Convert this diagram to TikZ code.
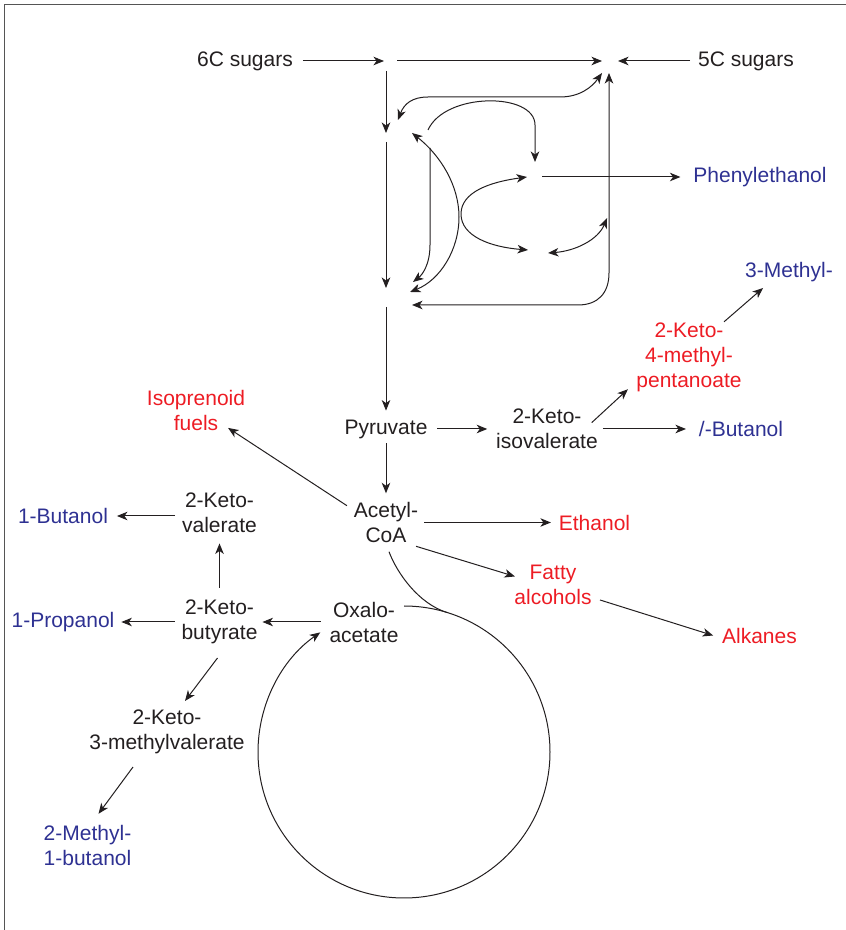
\documentclass[tikz,border=0pt]{standalone}
\usepackage{fontspec}
\setmainfont{Liberation Sans}
\usetikzlibrary{arrows.meta}
\definecolor{myred}{RGB}{237,28,36}
\definecolor{myblue}{RGB}{46,49,146}
\definecolor{mytext}{RGB}{35,31,32}
\definecolor{framegray}{RGB}{85,85,85}
\begin{document}
\begin{tikzpicture}[x=1pt,y=1pt,
  lbl/.style={font=\fontsize{21}{25}\selectfont, align=center, inner sep=0pt, outer sep=0pt, text=mytext},
  prod/.style={lbl, text=myred},
  alc/.style={lbl, text=myblue},
  tip/.tip={Stealth[length=10.5pt,width=8.5pt,inset=3pt]},
  arr/.style={draw=mytext, line width=1pt, -tip},
  darr/.style={draw=mytext, line width=1pt, tip-tip},
  ln/.style={draw=mytext, line width=1pt},
]
\useasboundingbox (0,0) rectangle (846,930);
\draw[framegray, line width=1.8pt] (4.5,0) -- (4.5,925.5) -- (846,925.5);

% nodes
\node[lbl] (sug6) at (245,869) {6C sugars};
\node[lbl] (sug5) at (746,869) {5C sugars};
\coordinate (j1) at (386,869);
\coordinate (j4) at (610,869);
\coordinate (j2) at (386,793);
\coordinate (j3) at (386,633);
\coordinate (j5) at (537,753);
\coordinate (j6) at (538,679);
\coordinate (j7) at (607,712);
\node[alc] (phe) at (760,753) {Phenylethanol};
\node[alc] (me3) at (789,658) {3-Methyl-};
\node[prod] (k4m) at (689,573) {2-Keto-\\4-methyl-\\pentanoate};
\node[lbl] (kiv) at (547,501) {2-Keto-\\isovalerate};
\node[alc] (ibut) at (741,501) {/-Butanol};
\node[lbl] (pyr) at (386,501) {Pyruvate};
\node[prod] (iso) at (196,520) {Isoprenoid\\fuels};
\node[lbl] (acoa) at (386,407.5) {Acetyl-\\CoA};
\node[prod] (eth) at (594.5,407.5) {Ethanol};
\node[prod] (fatty) at (553,345) {Fatty\\alcohols};
\node[prod] (alk) at (759.5,294.5) {Alkanes};
\node[lbl] (kval) at (219.5,417.5) {2-Keto-\\valerate};
\node[alc] (but1) at (63,414) {1-Butanol};
\node[lbl] (kbut) at (219.5,308) {2-Keto-\\butyrate};
\node[alc] (prop1) at (63,308) {1-Propanol};
\node[lbl] (oaa) at (364,308) {Oxalo-\\acetate};
\node[lbl] (k3m) at (167,198) {2-Keto-\\3-methylvalerate};
\node[alc] (mb2) at (87.5,85) {2-Methyl-\\1-butanol};
\coordinate (tcatop) at (404,324);
\coordinate (tcamerge) at (447,317.5);

% upper network
\draw[arr] ([xshift=10]sug6.east) -- ([xshift=-2]j1);
\draw[arr] ([xshift=11]j1) -- ([xshift=-8]j4);
\draw[arr] ([xshift=-8]sug5.west) -- ([xshift=8]j4);
\draw[arr] ([yshift=-10]j1) -- ([yshift=4]j2);
\draw[arr] ([yshift=-5]j2) -- ([yshift=9]j3);
\draw[arr] ([yshift=-10]j3) -- ([yshift=9]pyr.north);
\draw[darr] ([shift={(12,17)}]j2) .. controls (404,826) and (412,833) .. (428,833)
   -- (560,833) .. controls (580,833) and (592,843) .. ([shift={(-8,-12)}]j4);
\draw[arr] ([shift={(42,7)}]j2) .. controls (445,838) and (535,838) .. (535,805)
   -- ([shift={(-2,15)}]j5);
\draw[darr] ([shift={(26,4)}]j2) .. controls (440,775) and (459,745) .. (459,713)
   .. controls (459,680) and (440,650) .. ([shift={(24,5)}]j3);
\draw[arr] ([shift={(44,-11)}]j2) -- (430,685) .. controls (430,665) and (422,655) .. ([shift={(27,15)}]j3);
\draw[darr] ([shift={(-10,0)}]j5) .. controls (490,748) and (461,738) .. (461,716)
   .. controls (461,694) and (490,683) .. ([shift={(-10,1)}]j6);
\draw[darr] ([shift={(10,-2)}]j6) .. controls (575,679) and (598,690) .. (j7);
\draw[darr] ([shift={(26,-8)}]j3) -- (578,625) .. controls (598,625) and (609,637) .. (609,657)
   -- ([shift={(-1,-12)}]j4);
\draw[arr] ([xshift=5]j5) -- ([xshift=-13]phe.west);

% lower network
\draw[arr] ([yshift=-5]pyr.south) -- ([yshift=9]acoa.north);
\draw[arr] ([xshift=10]pyr.east) -- ([xshift=-9]kiv.west);
\draw[arr] ([xshift=5]kiv.east) -- ([xshift=-13]ibut.west);
\draw[arr] ([xshift=-6,yshift=-13.5]kiv.north east) -- ([xshift=-8.5,yshift=2.3]k4m.south west);
\draw[arr] ([xshift=-17.5,yshift=0.7]k4m.north east) -- ([xshift=17.8,yshift=-6.2]me3.south west);
\draw[arr] ([xshift=-7,yshift=-3.4]acoa.north west) -- ([xshift=-17,yshift=2.3]iso.south east);
\draw[arr] ([xshift=6]acoa.east) -- ([xshift=-8]eth.west);
\draw[arr] ([xshift=-2,yshift=-3.6]acoa.south east) -- ([xshift=0.5,yshift=-11.3]fatty.north west);
\draw[arr] ([xshift=8.5,yshift=-15]fatty.east) -- ([xshift=-9]alk.west);
\draw[arr] ([xshift=-9]oaa.west) -- ([xshift=5]kbut.east);
\draw[arr] ([yshift=12]kbut.north) -- ([yshift=-11]kval.south);
\draw[arr] ([xshift=-7,yshift=-3.5]kval.west) -- ([xshift=9]but1.east);
\draw[arr] ([xshift=-7]kbut.west) -- ([xshift=7]prop1.east);
\draw[arr] ([xshift=-2,yshift=-14]kbut.south) -- ([xshift=18,yshift=9]k3m.north);
\draw[arr] ([xshift=-34,yshift=-13]k3m.south) -- ([xshift=11,yshift=11]mb2.north);

% TCA cycle
\draw[arr] (tcatop) arc[start angle=90, end angle=-235, radius=146];
\draw[ln] ([xshift=3,yshift=-9]acoa.south) .. controls (397,357) and (418.4,326.4) .. (tcamerge);
\end{tikzpicture}
\end{document}
